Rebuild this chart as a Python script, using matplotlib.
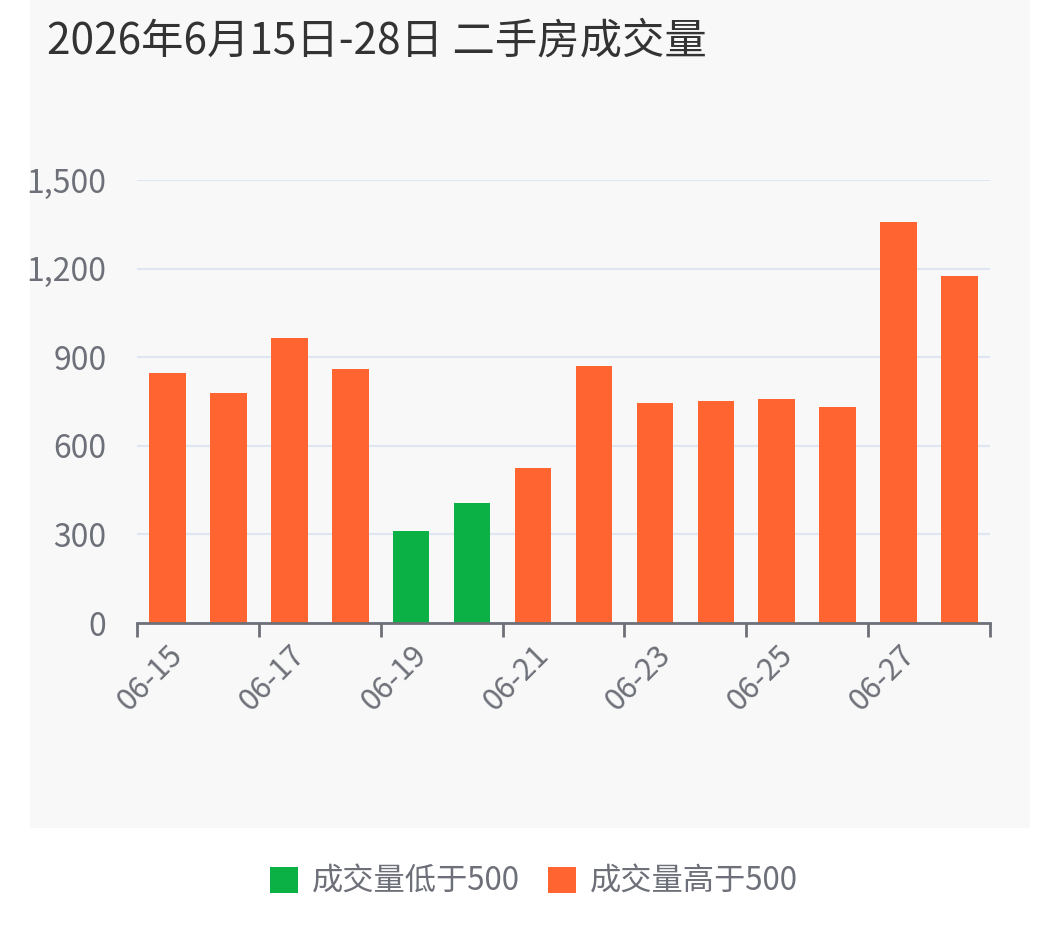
import matplotlib
matplotlib.use("Agg")
import matplotlib.pyplot as plt
from matplotlib.patches import Rectangle, Patch
from matplotlib.ticker import FuncFormatter

plt.rcParams['font.family'] = ['Noto Sans CJK SC', 'DejaVu Sans']

dates = ["06-15", "06-16", "06-17", "06-18", "06-19", "06-20", "06-21",
         "06-22", "06-23", "06-24", "06-25", "06-26", "06-27", "06-28"]
volumes = [848, 779, 964, 861, 313, 407, 525, 870, 745, 751, 757, 732, 1357, 1175]
threshold = 500
title = "2026年6月15日-28日 二手房成交量"
low_label = "成交量低于500"
high_label = "成交量高于500"
yticks = [0, 300, 600, 900, 1200, 1500]

green = "#0bb145"
orange = "#ff6431"
grey_text = "#6e7079"

fig = plt.figure(figsize=(10.59, 9.25), dpi=100)
fig.patch.set_facecolor("white")
fig.add_artist(Rectangle((30/1059, 97/925), 1000/1059, 828/925,
                         transform=fig.transFigure, facecolor="#f8f8f8",
                         edgecolor="none", zorder=0))

ax = fig.add_axes([137/1059, (925-623)/925, 853/1059, 443/925])
ax.set_facecolor("none")
x = list(range(len(dates)))
colors = [green if v < threshold else orange for v in volumes]
ax.bar(x, volumes, width=0.6, color=colors, zorder=3)

ax.set_xlim(-0.5, len(dates) - 0.5)
ax.set_ylim(0, 1500)
ax.set_yticks(yticks)
ax.yaxis.set_major_formatter(FuncFormatter(lambda v, p: f"{int(v):,}"))
ax.grid(axis="y", color="#e0e6f1", linewidth=1.6, zorder=0)
ax.tick_params(axis="y", length=0, labelsize=23, labelcolor=grey_text, pad=22)

major = x[::2]
ax.set_xticks(major)
ax.set_xticklabels([dates[i] for i in major], rotation=45, ha="right",
                   va="top", rotation_mode="anchor")
ax.tick_params(axis="x", which="major", length=0, labelsize=22,
               labelcolor=grey_text, pad=12)
ax.set_xticks([i - 0.5 for i in x[::2]] + [len(dates) - 0.5], minor=True)
ax.tick_params(axis="x", which="minor", length=10, width=2, color=grey_text,
               direction="out")

for s in ["top", "right", "left"]:
    ax.spines[s].set_visible(False)
ax.spines["bottom"].set_color(grey_text)
ax.spines["bottom"].set_linewidth(2)
ax.spines["bottom"].set_zorder(4)

fig.text(47/1059, 1 - 41/925, title, fontsize=30.5, color="#333333",
         ha="left", va="center")

handles = [Patch(facecolor=green, edgecolor="none", label=low_label),
           Patch(facecolor=orange, edgecolor="none", label=high_label)]
leg = fig.legend(handles=handles, loc="center", bbox_to_anchor=(534/1059, 1 - 882/925),
                 ncol=2, frameon=False, fontsize=22.5, handlelength=0.9,
                 handleheight=0.9, handletextpad=0.45, columnspacing=0.9)
for t in leg.get_texts():
    t.set_color(grey_text)

fig.savefig("out.png", dpi=100, facecolor="white")
